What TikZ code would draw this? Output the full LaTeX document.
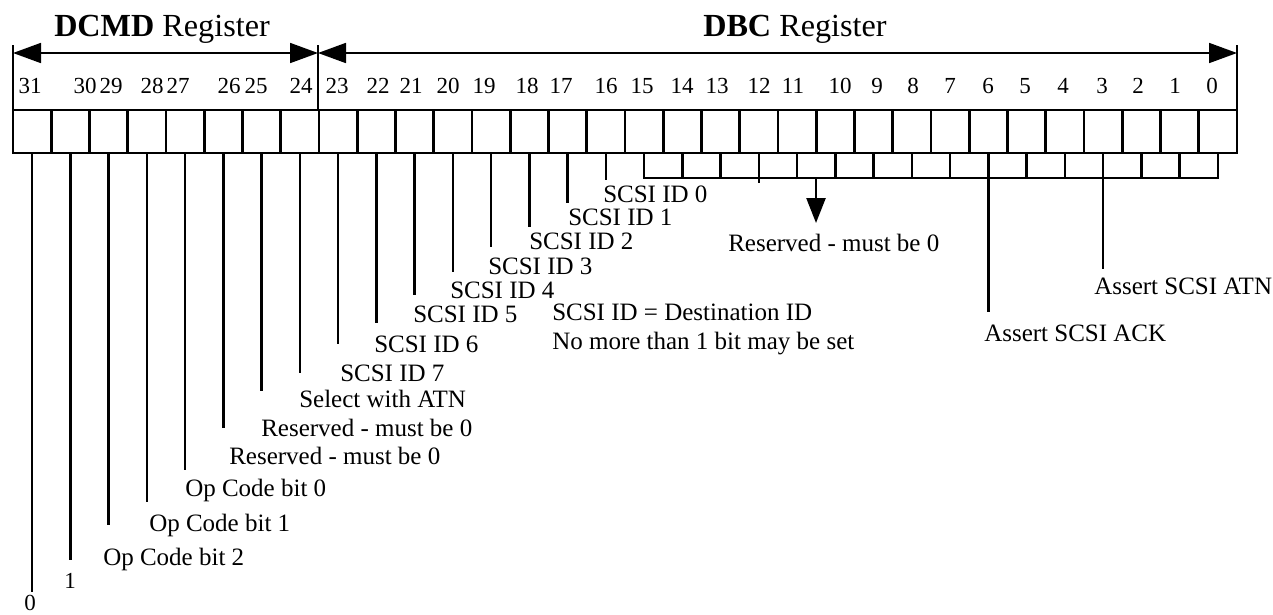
\documentclass[tikz,border=0pt]{standalone}
\usepackage{fontspec}
\setmainfont{Liberation Serif}
\usetikzlibrary{arrows.meta}
\begin{document}
\begin{tikzpicture}[x=1pt,y=-1pt,line width=2.5pt,
  lbl/.style={anchor=base west,inner sep=0pt,font=\fontsize{25}{27}\selectfont},
  num/.style={anchor=base,inner sep=0pt,font=\fontsize{23}{25}\selectfont},
  ttl/.style={anchor=base west,inner sep=0pt,font=\fontsize{32.2}{34}\selectfont},
  cellbox/.style={draw,line width=2.6pt,minimum width=38.25pt,minimum height=43pt,inner sep=0pt,outer sep=0pt},
  lead/.style={line width=2.5pt},
  regarrow/.style={line width=1.8pt,{Triangle[length=28pt,width=20pt]}-{Triangle[length=28pt,width=20pt]}},
  downarrow/.style={line width=2.5pt,-{Triangle[length=25pt,width=19pt]}}]
\useasboundingbox (0,0) rectangle (1273,614);
% titles
\node[ttl] (tdcmd) at (53,36) {\textbf{DCMD} Register};
\node[ttl] (tdbc) at (702,36) {\textbf{DBC} Register};
% register frame
\coordinate (fl) at (13,45); \coordinate (fm) at (318,45); \coordinate (fr) at (1237,45);
\coordinate (gl) at (13,110); \coordinate (gm) at (318,110); \coordinate (gr) at (1237,110);
\draw[line width=2.4pt] (fl) -- (gl) (fm) -- (gm) (fr) -- (gr);
\coordinate (al) at (13,53); \coordinate (am) at (318,53); \coordinate (ar) at (1237,53);
\draw[regarrow] (al) -- (am);
\draw[regarrow] (am) -- (ar);
% bit numbers
\foreach \b/\x in {31/30,30/85,29/111,28/152,27/178,26/229,25/256,24/301,23/337,22/378,21/411,20/448,19/484,18/527,17/561,16/606,15/642,14/682,13/717,12/759,11/793,10/840,9/877,8/913,7/950,6/988,5/1025,4/1063,3/1102,2/1138,1/1175,0/1212}
  \node[num] (n\b) at (\x,93) {\b};
% cells
\foreach \b in {0,...,31}
  \node[cellbox] (c\b) at ({13+38.25*(31-\b+0.5)},131.5) {};
% leaders for bits 31..16
\foreach \b/\y in {31/592,30/560,29/525,28/502,27/470,26/428,25/391,24/373,23/344,22/323,21/295,20/272,19/247,18/227,17/203,16/180}{
  \coordinate (e\b) at (c\b.south |- 0,\y);
  \draw[lead] (c\b.south) -- (e\b);
}
% labels
\node[num] (l31) at (30,610) {0};
\node[num] (l30) at (70,588) {1};
\node[lbl] (l29) at (102,565) {Op Code bit 2};
\node[lbl] (l28) at (148,531) {Op Code bit 1};
\node[lbl] (l27) at (184,496) {Op Code bit 0};
\node[lbl] (l26) at (228,464) {Reserved - must be 0};
\node[lbl] (l25) at (260,436) {Reserved - must be 0};
\node[lbl] (l24) at (298,407) {Select with ATN};
\node[lbl] (l23) at (339,381) {SCSI ID 7};
\node[lbl] (l22) at (373,352) {SCSI ID 6};
\node[lbl] (l21) at (412,322) {SCSI ID 5};
\node[lbl] (l20) at (449,298) {SCSI ID 4};
\node[lbl] (l19) at (487,274) {SCSI ID 3};
\node[lbl] (l18) at (528,249) {SCSI ID 2};
\node[lbl] (l17) at (567,225) {SCSI ID 1};
\node[lbl] (l16) at (602,202) {SCSI ID 0};
\node[lbl] (note1) at (551,320) {SCSI ID = Destination ID};
\node[lbl] (note2) at (551,349) {No more than 1 bit may be set};
% bracket for bits 15..0
\coordinate (by) at (0,178);
\draw[lead] (c15.south) -- (c15.south |- by) -- (c0.south |- by) -- (c0.south);
\foreach \b in {14,13,11,10,9,8,7,5,4,2,1}
  \draw[lead] (c\b.south) -- (c\b.south |- by);
\coordinate (t12) at (c12.south |- 0,183);
\draw[lead] (c12.south) -- (t12);
\coordinate (ra) at (816,178); \coordinate (rt) at (816,223);
\draw[downarrow] (ra) -- (rt);
\node[lbl] (lres) at (727,251) {Reserved - must be 0};
\coordinate (e6) at (c6.south |- 0,312);
\draw[lead] (c6.south) -- (e6);
\node[lbl] (l6) at (983,341) {Assert SCSI ACK};
\coordinate (e3) at (c3.south |- 0,269);
\draw[lead] (c3.south) -- (e3);
\node[lbl] (l3) at (1093,294) {Assert SCSI ATN};
\end{tikzpicture}
\end{document}
